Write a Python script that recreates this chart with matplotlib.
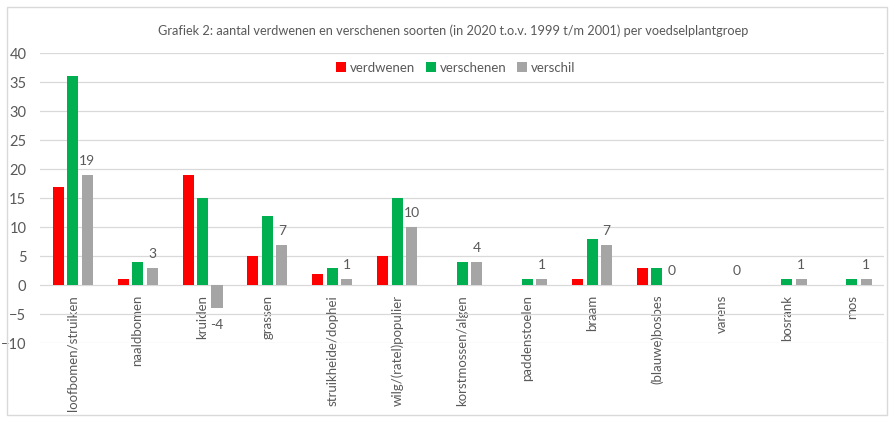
import matplotlib.pyplot as plt
import numpy as np
from matplotlib.patches import Rectangle

# gegevens uit de grafiek
categories = ['loofbomen/struiken', 'naaldbomen', 'kruiden', 'grassen',
              'struikheide/dophei', 'wilg/(ratel)populier', 'korstmossen/algen',
              'paddenstoelen', 'braam', '(blauwe)bosbes', 'varens', 'bosrank', 'mos']
verdwenen = [17, 1, 19, 5, 2, 5, 0, 0, 1, 3, 0, 0, 0]
verschenen = [36, 4, 15, 12, 3, 15, 4, 1, 8, 3, 0, 1, 1]
verschil = [19, 3, -4, 7, 1, 10, 4, 1, 7, 0, 0, 1, 1]

plt.rcParams['font.family'] = ['Lato', 'DejaVu Sans']
txt = '#595959'

fig = plt.figure(figsize=(8.94, 4.22), dpi=100)
ax = fig.add_axes([0.045, 0.187, 0.944, 0.687])

for s in ax.spines.values():
    s.set_visible(False)
# categorie-as kruist bij 0
ax.spines['bottom'].set_position(('data', 0))

x = np.arange(len(categories))
w = 0.17
step = 0.223
ax.bar(x - step, verdwenen, w, color='#FF0000', label='verdwenen', zorder=3)
ax.bar(x, verschenen, w, color='#00B050', label='verschenen', zorder=3)
bars = ax.bar(x + step, verschil, w, color='#A5A5A5', label='verschil', zorder=3)

for b, v in zip(bars, verschil):
    off = 10 if v >= 0 else -12
    ax.annotate(str(v), (b.get_x() + b.get_width() / 2, v), xytext=(0, off),
                textcoords='offset points', ha='center', va='center',
                fontsize=10, color=txt)

ax.set_xlim(-0.5, len(categories) - 0.5)
ax.set_ylim(-10, 40)
ax.set_yticks(range(-10, 41, 5))
ax.set_xticks(x)
ax.set_xticklabels(categories, fontsize=9.5, color=txt)
ax.tick_params(axis='x', length=0, pad=7, labelrotation=90)
ax.tick_params(axis='y', length=0, labelsize=10.5, labelcolor=txt, pad=10)
ax.grid(axis='y', color='#D9D9D9', linewidth=0.9, zorder=0)

fig.text(0.507, 0.928, 'Grafiek 2: aantal verdwenen en verschenen soorten '
         '(in 2020 t.o.v. 1999 t/m 2001) per voedselplantgroep',
         ha='center', va='center', fontsize=9.2, color=txt)

fig.legend(loc='center', bbox_to_anchor=(0.51, 0.84), ncol=3, frameon=False,
           fontsize=9.5, handlelength=0.75, handleheight=0.75,
           handletextpad=0.3, columnspacing=0.8, labelcolor=txt)

fig.patches.append(Rectangle((7 / 894, 7 / 422), 880 / 894, 408 / 422,
                             transform=fig.transFigure, fill=False,
                             edgecolor='#D9D9D9', linewidth=1))

plt.savefig('out.png', dpi=100)
